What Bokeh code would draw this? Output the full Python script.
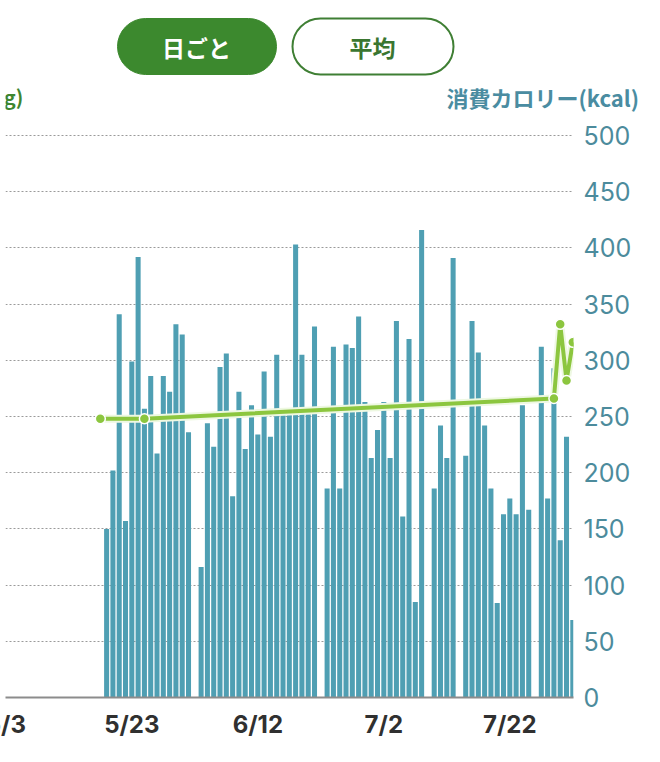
import pandas as pd
from bokeh.plotting import figure
from bokeh.models import Range1d, FixedTicker, BoxAnnotation, Label, LinearAxis
from bokeh.embed import file_html
from bokeh.resources import INLINE

# ---------------- data ----------------
origin = pd.Timestamp("2023-05-03")
tick_dates = ["2023-05-03", "2023-05-23", "2023-06-12", "2023-07-02", "2023-07-22"]
tick_labels = ["5/3", "5/23", "6/12", "7/2", "7/22"]

bar_dates = pd.date_range("2023-05-19", "2023-08-01", freq="D")
kcal = [150, 202, 341, 157, 299, 392, 257, 286, 217, 286,
        272, 332, 323, 236, 0, 116, 244, 223, 294, 306,
        179, 272, 221, 260, 234, 290, 232, 305, 252, 252,
        403, 305, 252, 330, 0, 186, 312, 186, 314, 311,
        339, 263, 213, 238, 263, 213, 335, 161, 319, 85,
        416, 0, 186, 242, 213, 391, 0, 215, 335, 307,
        242, 186, 84, 163, 177, 163, 260, 167, 0, 312,
        177, 293, 140, 232, 69]

weight_dates = ["2023-05-18", "2023-05-25", "2023-07-29", "2023-07-30", "2023-07-31", "2023-08-01"]
weight_kg = [52.4, 52.4, 53.3, 56.6, 54.1, 55.8]

kcal_ticks = [0, 50, 100, 150, 200, 250, 300, 350, 400, 450, 500]

buttons = ["日ごと", "平均"]
left_title = "体重(kg)"
right_title = "消費カロリー(kcal)"

# ---------------- helpers ----------------
def day(d):
    return (pd.Timestamp(d) - origin).days

bar_x = [day(d) for d in bar_dates]
w_x = [day(d) for d in weight_dates]
tick_x = [day(d) for d in tick_dates]

JP = "Noto Sans CJK JP"

SHIFT = 15            # part of the canvas that lies left of the window
W, H = 660 + SHIFT, 758
BOTTOM = 697          # y of the zero line (page px)
FRAME_L = 5           # page px
FRAME_R = 573         # page px
KCAL_PX = 1.124       # px per kcal
KG_PX = 22.48         # px per kg
DAY_PX = 6.3

x0 = -0.05
p = figure(width=W, height=H, output_backend="svg", toolbar_location=None,
           x_range=Range1d(x0, x0 + (FRAME_R - FRAME_L) / DAY_PX),
           y_range=Range1d(0, BOTTOM / KCAL_PX),
           y_axis_location="right",
           min_border_left=FRAME_L + SHIFT, min_border_top=0,
           min_border_right=W - SHIFT - FRAME_R, min_border_bottom=H - BOTTOM)
p.margin = (0, 0, 0, -SHIFT)
p.extra_y_ranges = {"w": Range1d(40, 40 + BOTTOM / KG_PX)}
p.outline_line_color = None
p.background_fill_color = "white"
p.border_fill_color = "white"

# grid
p.xgrid.visible = False
p.ygrid.ticker = FixedTicker(ticks=kcal_ticks[1:])
p.ygrid.grid_line_color = "#9a9a9a"
p.ygrid.grid_line_dash = "2 2"
p.ygrid.grid_line_width = 1

# bars
p.vbar(x=bar_x, top=kcal, bottom=0, width=0.8,
       fill_color="#4f9fb3", line_color=None)

# weight line
p.line(w_x, weight_kg, y_range_name="w", line_width=8, line_color="#eef8e2")
p.line(w_x, weight_kg, y_range_name="w", line_width=4, line_color="#8cc63f")
p.scatter(w_x, weight_kg, y_range_name="w", size=10,
          fill_color="#8cc63f", line_color="white", line_width=1.5)

# right axis (kcal)
ya = p.yaxis[0]
ya.ticker = FixedTicker(ticks=kcal_ticks)
ya.axis_line_color = None
ya.major_tick_line_color = None
ya.minor_tick_line_color = None
ya.major_tick_out = 0
ya.major_tick_in = 0
ya.major_label_standoff = 10
ya.major_label_text_font = "Inter"
ya.major_label_text_font_size = "25px"
ya.major_label_text_color = "#4c8b9c"

# right axis title, drawn as the single label of a second right axis
title_y = (BOTTOM - 96) / KCAL_PX
ta = LinearAxis(ticker=FixedTicker(ticks=[title_y]),
                major_label_overrides={title_y: right_title},
                axis_line_color=None, major_tick_line_color=None,
                minor_tick_line_color=None, major_tick_out=0, major_tick_in=0,
                major_label_standoff=-188,
                major_label_text_font=JP, major_label_text_font_style="bold",
                major_label_text_font_size="22px", major_label_text_color="#4a8ca1")
p.add_layout(ta, "right")

# bottom axis
xa = p.xaxis[0]
xa.ticker = FixedTicker(ticks=tick_x)
xa.major_label_overrides = {t: l for t, l in zip(tick_x, tick_labels)}
xa.axis_line_color = "#8c8c8c"
xa.axis_line_width = 2
xa.major_tick_line_color = None
xa.minor_tick_line_color = None
xa.major_tick_out = 0
xa.major_tick_in = 0
xa.major_label_standoff = 12
xa.major_label_text_font = "Inter"
xa.major_label_text_font_style = "bold"
xa.major_label_text_font_size = "24px"
xa.major_label_text_color = "#303030"

# header pills (screen units: from frame left / frame bottom)
def sx(px):
    return px - FRAME_L

def sy(py):
    return BOTTOM - py

p.add_layout(BoxAnnotation(left=sx(117), right=sx(276), top=sy(18), bottom=sy(74),
                           left_units="screen", right_units="screen",
                           top_units="screen", bottom_units="screen",
                           fill_color="#3c892e", fill_alpha=1.0,
                           line_color="#3c892e", line_alpha=1.0, line_width=1,
                           border_radius=28))
p.add_layout(BoxAnnotation(left=sx(292), right=sx(453), top=sy(18), bottom=sy(74),
                           left_units="screen", right_units="screen",
                           top_units="screen", bottom_units="screen",
                           fill_color="white", fill_alpha=1.0,
                           line_color="#3f7f34", line_alpha=1.0, line_width=2,
                           border_radius=28))
p.add_layout(Label(x=sx(196), y=sy(46), x_units="screen", y_units="screen",
                   text=buttons[0], text_align="center", text_baseline="middle",
                   text_font=JP, text_font_style="bold",
                   text_font_size="23px", text_color="white"))
p.add_layout(Label(x=sx(372), y=sy(46), x_units="screen", y_units="screen",
                   text=buttons[1], text_align="center", text_baseline="middle",
                   text_font=JP, text_font_style="bold",
                   text_font_size="23px", text_color="#3a7630"))
p.add_layout(Label(x=sx(23), y=sy(96), x_units="screen", y_units="screen",
                   text=left_title, text_align="right", text_baseline="middle",
                   text_font=JP, text_font_style="bold",
                   text_font_size="20px", text_color="#3f862f"))

open("out.html", "w").write(file_html(p, INLINE))
